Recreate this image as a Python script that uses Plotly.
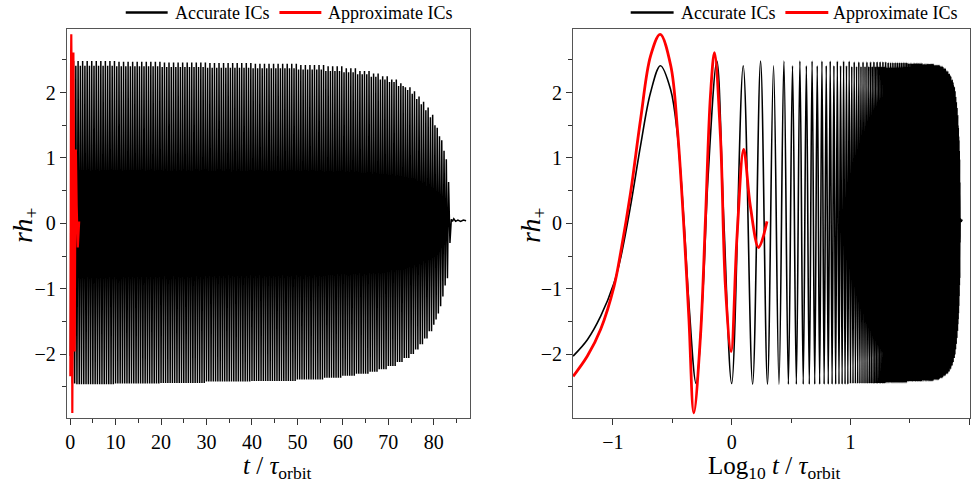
import numpy as np
import plotly.graph_objects as go

W, H = 971, 487

# ---------------- data ----------------
# accurate ICs: early part (log10 t, rh+)
acc_early_logt = [-1.335, -1.215, -1.103, -0.99, -0.935, -0.851, -0.767, -0.683, -0.60,
                  -0.515, -0.459, -0.403, -0.361, -0.30, -0.24, -0.20, -0.125, -0.067, 0.0]
acc_early_h = [-2.03, -1.78, -1.42, -0.91, -0.53, 0.27, 1.19, 2.0, 2.41,
               2.05, 1.39, 0.06, -1.2, -2.45, -0.96, 0.68, 2.48, 0.06, -2.45]

# accurate ICs: extrema every half wave (spacing)
extrema_first_t = 1.25
extrema_spacing = 0.25
extrema_last_t = 83.25
# envelope of the extrema, piecewise by time segment (start t of each segment)
env_t = [1.0, 10, 20, 30, 40, 50, 56, 60, 63, 66, 68, 70, 72, 73.5, 75, 76, 77, 78,
         79, 80, 80.5, 81, 81.5, 82, 82.5, 83]
env_peak_hi = [2.48, 2.47, 2.46, 2.45, 2.44, 2.42, 2.40, 2.37, 2.33, 2.29, 2.25, 2.20, 2.14,
               2.08, 2.02, 1.94, 1.86, 1.77, 1.66, 1.54, 1.46, 1.37, 1.27, 1.15, 0.98, 0.65]
env_peak_lo = [2.41, 2.40, 2.39, 2.38, 2.37, 2.35, 2.33, 2.31, 2.28, 2.24, 2.20, 2.16, 2.10,
               2.04, 1.98, 1.90, 1.82, 1.73, 1.62, 1.50, 1.42, 1.33, 1.23, 1.11, 0.94, 0.63]
env_trough = [2.46, 2.45, 2.44, 2.42, 2.41, 2.39, 2.36, 2.33, 2.30, 2.27, 2.23, 2.18, 2.12,
              2.06, 2.00, 1.93, 1.85, 1.76, 1.65, 1.55, 1.47, 1.38, 1.27, 1.12, 0.95, 0.84]

# accurate ICs: ringdown tail
tail_t = [83.55, 83.85, 84.1, 84.4, 84.8, 85.3, 85.9, 86.5, 87.1]
tail_h = [-0.30, 0.06, 0.03, 0.07, 0.03, 0.05, 0.03, 0.05, 0.04]

# approximate ICs (log10 t, rh+)
apx_logt = [-1.335, -1.215, -1.103, -0.99, -0.935, -0.851, -0.767, -0.683, -0.602, -0.513,
            -0.457, -0.40, -0.36, -0.319, -0.263, -0.221, -0.179, -0.145, -0.095, -0.053,
            -0.005, 0.045, 0.101, 0.157, 0.227, 0.297]
apx_h = [-2.34, -2.03, -1.62, -0.96, -0.45, 0.47, 1.59, 2.56, 2.89, 2.41,
         1.44, -0.14, -1.47, -2.90, -1.73, 0.06, 1.95, 2.61, 1.34, -0.96,
         -1.96, -0.19, 1.13, 0.26, -0.37, 0.03]

x_ticks_lin = [0, 10, 20, 30, 40, 50, 60, 70, 80]
x_ticks_log = [-1, 0, 1, 2]
y_ticks = [-2, -1, 0, 1, 2]

# ---------------- assemble series ----------------
ext_t = np.arange(extrema_first_t, extrema_last_t + 1e-9, extrema_spacing)
seg = np.searchsorted(env_t, ext_t, side="right") - 1
ext_h = []
for i, (tt, s) in enumerate(zip(ext_t, seg)):
    if i % 2 == 1:
        ext_h.append(-env_trough[s])
    else:
        k = i // 2
        ext_h.append(env_peak_lo[s] if k % 2 == 0 else env_peak_hi[s])

acc_t = np.concatenate([10 ** np.array(acc_early_logt), ext_t, tail_t])
acc_h = np.concatenate([acc_early_h, ext_h, tail_h])
apx_t = 10 ** np.array(apx_logt)
apx_h = np.array(apx_h)

FONT = "Liberation Serif, Times New Roman, Times, serif"
fig = go.Figure()

# left (linear time)
fig.add_trace(go.Scatter(x=acc_t, y=acc_h, mode="lines", name="Accurate ICs",
                         line=dict(color="black", width=1.5, simplify=False),
                         xaxis="x", yaxis="y", showlegend=False))
fig.add_trace(go.Scatter(x=apx_t, y=apx_h, mode="lines", name="Approximate ICs",
                         line=dict(color="red", width=2.2, simplify=False),
                         xaxis="x", yaxis="y", showlegend=False))
# right (log10 time)
fig.add_trace(go.Scatter(x=np.log10(acc_t), y=acc_h, mode="lines", name="Accurate ICs",
                         line=dict(color="black", width=1.6, shape="spline", simplify=False),
                         xaxis="x2", yaxis="y2", showlegend=False))
fig.add_trace(go.Scatter(x=np.log10(apx_t), y=apx_h, mode="lines", name="Approximate ICs",
                         line=dict(color="red", width=2.8, shape="spline", simplify=False),
                         xaxis="x2", yaxis="y2", showlegend=False))

def px(x):
    return x / W

def py(y):
    return 1 - y / H

axis_common = dict(showline=True, linecolor="#555", linewidth=1.3, mirror=True,
                   ticks="outside", ticklen=6, tickwidth=1.2, tickcolor="#333",
                   showgrid=False, zeroline=False,
                   tickfont=dict(family=FONT, size=20, color="black"))

ydom = [py(418), py(29)]
yrange = [-2.977, 2.971]

fig.update_layout(
    width=W, height=H, margin=dict(l=0, r=0, t=0, b=0),
    paper_bgcolor="white", plot_bgcolor="white",
    font=dict(family=FONT, color="black"),
    xaxis=dict(domain=[px(65), px(468.5)], range=[-0.72, 87.86], tickvals=x_ticks_lin,
               minor=dict(dtick=5, ticklen=4, ticks="outside", tickcolor="#333"),
               anchor="y", **axis_common),
    yaxis=dict(domain=ydom, range=yrange, tickvals=y_ticks,
               minor=dict(dtick=0.5, ticklen=4, ticks="outside", tickcolor="#333"),
               anchor="x", **axis_common),
    xaxis2=dict(domain=[px(572.3), px(970)], range=[-1.335, 2.006], tickvals=x_ticks_log,
                minor=dict(dtick=0.5, ticklen=4, ticks="outside", tickcolor="#333"),
                anchor="y2", **axis_common),
    yaxis2=dict(domain=ydom, range=yrange, tickvals=y_ticks,
                minor=dict(dtick=0.5, ticklen=4, ticks="outside", tickcolor="#333"),
                anchor="x2", **axis_common),
)

# legends (line samples + labels) above each panel
shapes = []
annotations = []
for (bx0, bx1, tx1, rx0, rx1, tx2) in [(124, 166, 173, 278, 320, 327),
                                        (630, 673, 680, 785, 828, 833)]:
    shapes.append(dict(type="line", xref="paper", yref="paper", x0=px(bx0), x1=px(bx1),
                       y0=py(12.5), y1=py(12.5), line=dict(color="black", width=2.5)))
    shapes.append(dict(type="line", xref="paper", yref="paper", x0=px(rx0), x1=px(rx1),
                       y0=py(12.5), y1=py(12.5), line=dict(color="red", width=3)))
    annotations.append(dict(text="Accurate ICs", xref="paper", yref="paper", x=px(tx1 - 2),
                            y=py(13.5), xanchor="left", yanchor="middle", showarrow=False,
                            font=dict(family=FONT, size=18, color="black")))
    annotations.append(dict(text="Approximate ICs", xref="paper", yref="paper", x=px(tx2 - 2),
                            y=py(13.5), xanchor="left", yanchor="middle", showarrow=False,
                            font=dict(family=FONT, size=18, color="black")))

# axis titles
annotations.append(dict(text="<i>t</i> / <i>τ</i><sub>orbit</sub>", xref="paper", yref="paper",
                        x=px(276), y=py(467), xanchor="center", yanchor="middle",
                        showarrow=False, font=dict(family=FONT, size=25, color="black")))
annotations.append(dict(text="Log<sub>10</sub> <i>t</i> / <i>τ</i><sub>orbit</sub>",
                        xref="paper", yref="paper", x=px(774), y=py(467), xanchor="center",
                        yanchor="middle", showarrow=False,
                        font=dict(family=FONT, size=25, color="black")))
for xc in (22, 531):
    annotations.append(dict(text="<i>rh</i><sub>+</sub>", xref="paper", yref="paper",
                            x=px(xc), y=py(225), xanchor="center", yanchor="middle",
                            textangle=-90, showarrow=False,
                            font=dict(family=FONT, size=28, color="black")))

fig.update_layout(shapes=shapes, annotations=annotations)
fig.write_html("out.html")
